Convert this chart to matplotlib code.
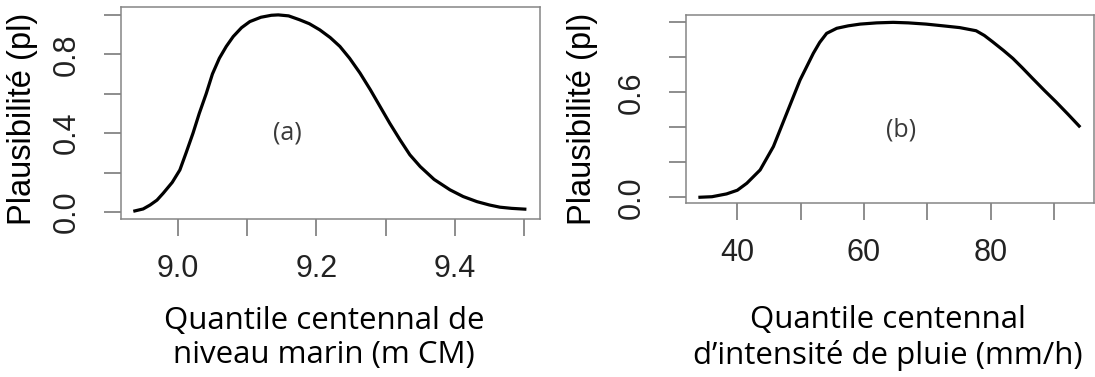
import matplotlib
matplotlib.use("Agg")
import matplotlib.pyplot as plt

# (a) niveau marin
sea_x = [8.938, 8.950, 8.960, 8.970, 8.979, 8.992, 9.003, 9.012, 9.022, 9.031,
         9.041, 9.050, 9.060, 9.070, 9.080, 9.092, 9.104, 9.120, 9.135, 9.145,
         9.160, 9.176, 9.190, 9.205, 9.220, 9.234, 9.248, 9.263, 9.278, 9.292,
         9.306, 9.321, 9.335, 9.350, 9.370, 9.393, 9.412, 9.432, 9.450, 9.465,
         9.482, 9.501]
sea_pl = [0.005, 0.015, 0.035, 0.060, 0.095, 0.150, 0.213, 0.300, 0.400, 0.500,
          0.600, 0.700, 0.780, 0.840, 0.890, 0.935, 0.966, 0.988, 0.998, 1.000,
          0.995, 0.975, 0.955, 0.924, 0.885, 0.840, 0.780, 0.705, 0.620, 0.535,
          0.450, 0.365, 0.290, 0.230, 0.165, 0.112, 0.078, 0.052, 0.035, 0.024,
          0.018, 0.014]

# (b) intensite de pluie
rain_x = [34.1, 36.0, 38.3, 40.0, 41.5, 43.6, 45.7, 47.8, 49.9, 51.0,
          52.0, 53.0, 54.1, 55.7, 57.5, 59.4, 62.0, 64.6, 67.0, 69.8,
          72.5, 75.1, 77.7, 79.0, 80.3, 82.0, 83.5, 85.0, 86.6, 88.5,
          90.3, 92.2, 93.97]
rain_pl = [0.000, 0.003, 0.019, 0.040, 0.080, 0.156, 0.290, 0.480, 0.670, 0.750,
           0.823, 0.885, 0.937, 0.966, 0.980, 0.990, 0.997, 1.000, 0.997, 0.990,
           0.980, 0.970, 0.952, 0.925, 0.889, 0.840, 0.794, 0.740, 0.680, 0.610,
           0.546, 0.475, 0.407]

sea_xticks = [9.0, 9.1, 9.2, 9.3, 9.4, 9.5]
sea_xlabels = ["9.0", "", "9.2", "", "9.4", ""]
sea_yticks = [0.0, 0.2, 0.4, 0.6, 0.8, 1.0]
sea_ylabels = ["0.0", "", "0.4", "", "0.8", ""]
rain_xticks = [40, 50, 60, 70, 80, 90]
rain_xlabels = ["40", "", "60", "", "80", ""]
rain_yticks = [0.0, 0.2, 0.4, 0.6, 0.8, 1.0]
rain_ylabels = ["0.0", "", "", "0.6", "", ""]

plt.rcParams['font.family'] = ['Liberation Sans', 'DejaVu Sans']

TXT = "#222222"
BOX = "#858585"
CAL = "Open Sans"
W, H = 1095, 377


def style_axis(ax, xticks, xlabels, yticks, ylabels):
    for s in ax.spines.values():
        s.set_color(BOX)
        s.set_linewidth(1.1)
    ax.set_xticks(xticks)
    ax.set_xticklabels(xlabels)
    ax.set_yticks(yticks)
    ax.set_yticklabels(ylabels, rotation=90, va="center")
    ax.tick_params(direction="out", length=12, width=1.1, color="#6f6f6f",
                   labelsize=22, labelcolor=TXT)
    ax.tick_params(axis="x", pad=13)
    ax.tick_params(axis="y", pad=16)


fig = plt.figure(figsize=(10.95, 3.77), dpi=100)

ax1 = fig.add_axes([0.1105, 0.4191, 0.3827, 0.5623])
ax1.plot(sea_x, sea_pl, color="black", linewidth=2.3)
ax1.set_xlim(8.918, 9.523)
ax1.set_ylim(-0.036, 1.04)
style_axis(ax1, sea_xticks, sea_xlabels, sea_yticks, sea_ylabels)
ax1.text(9.1575, 0.40, "(a)", fontsize=18, family=CAL, color="#3a3a3a",
         ha="center", va="center")

ax2 = fig.add_axes([0.6265, 0.4615, 0.3725, 0.4987])
ax2.plot(rain_x, rain_pl, color="black", linewidth=2.3)
ax2.set_xlim(31.9, 96.3)
ax2.set_ylim(-0.033, 1.042)
style_axis(ax2, rain_xticks, rain_xlabels, rain_yticks, rain_ylabels)
ax2.text(65.9, 0.385, "(b)", fontsize=18, family=CAL, color="#3a3a3a",
         ha="center", va="center")

# y labels
fig.text(23 / W, 1 - 119 / H, "Plausibilité (pl)", fontsize=23.5, rotation=90,
         ha="center", va="center")
fig.text(583 / W, 1 - 119 / H, "Plausibilité (pl)", fontsize=23.5, rotation=90,
         ha="center", va="center")

# x labels
fig.text(324 / W, 1 - 338 / H, "Quantile centennal de\nniveau marin (m CM)",
         fontsize=22.5, family=CAL, ha="center", va="center", linespacing=1.19)
fig.text(888 / W, 1 - 338 / H,
         "Quantile centennal\nd\u2019intensité de pluie (mm/h)",
         fontsize=22.5, family=CAL, ha="center", va="center", linespacing=1.19)

fig.savefig("out.png", dpi=100)
